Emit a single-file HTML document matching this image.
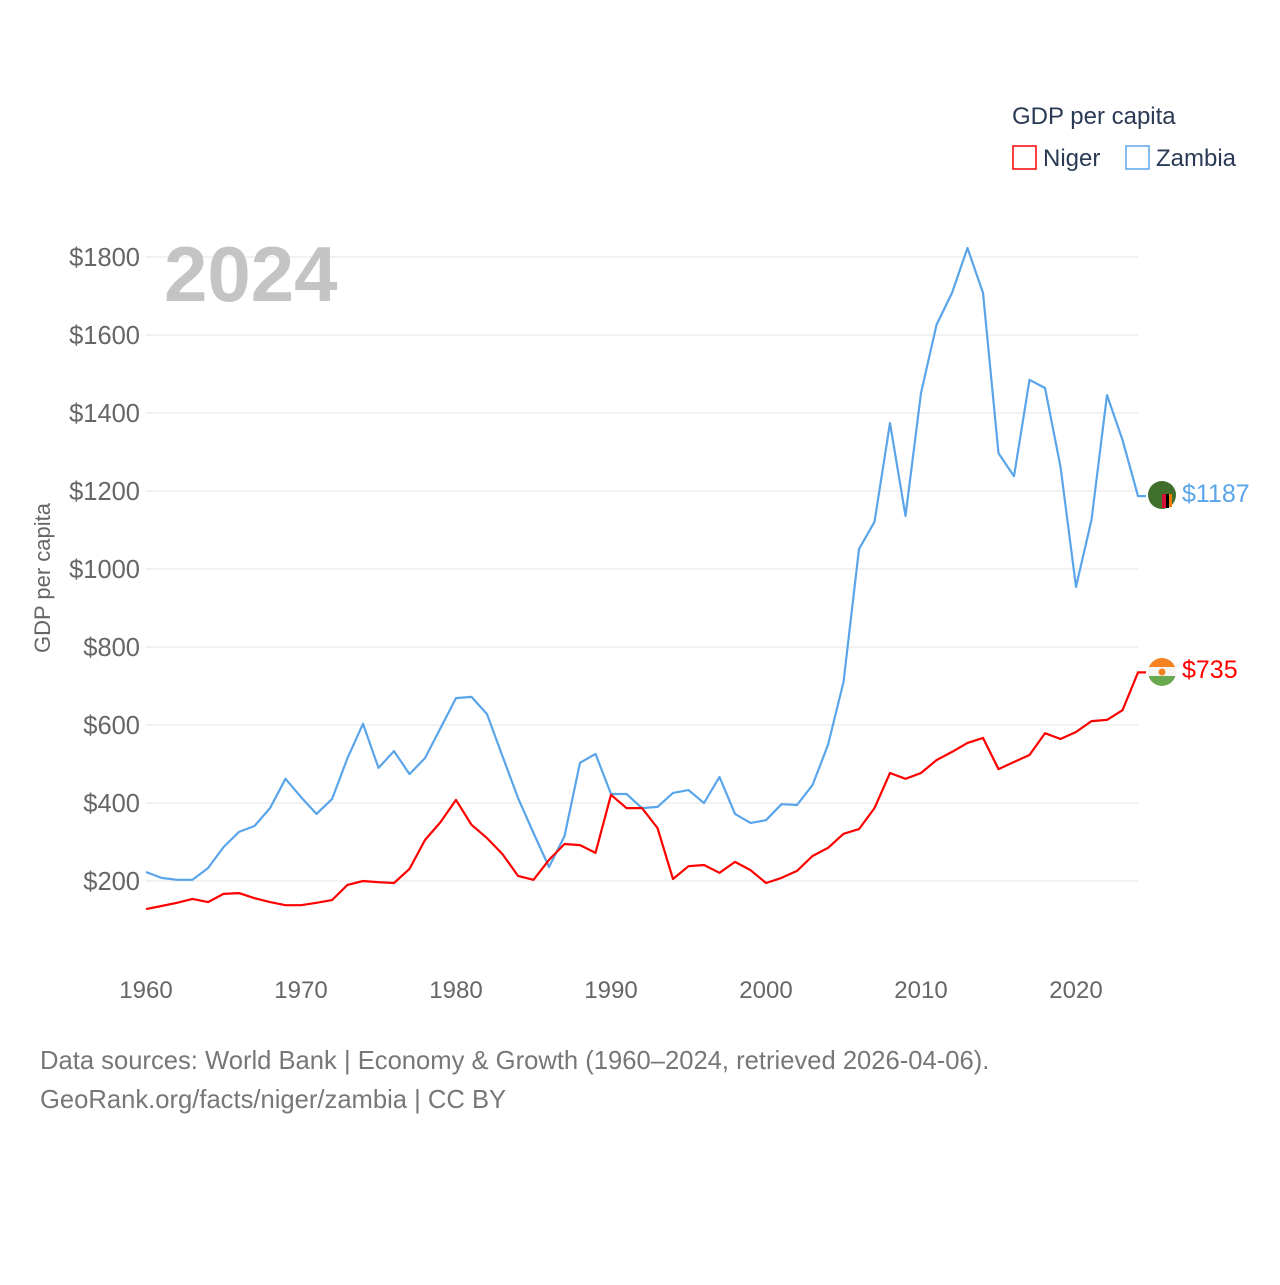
<!DOCTYPE html>
<html><head><meta charset="utf-8">
<style>
body{margin:0;background:#fff;font-family:"Liberation Sans",sans-serif;}
svg text{font-family:"Liberation Sans",sans-serif;}
</style></head>
<body>
<svg id="chart" width="1280" height="1280" viewBox="0 0 1280 1280" xmlns="http://www.w3.org/2000/svg">
<rect width="1280" height="1280" fill="#fff"/>
<g id="grid"></g>
<g id="yticks"></g>
<g id="xticks"></g>
<text x="164" y="301" font-size="78" font-weight="bold" fill="#c4c4c4">2024</text>
<text transform="translate(50,578) rotate(-90)" text-anchor="middle" font-size="22" fill="#666">GDP per capita</text>
<g id="series"></g>
<g>
<text x="1012" y="124" font-size="24" fill="#2a3a55">GDP per capita</text>
<rect x="1013" y="146" width="23" height="23" fill="none" stroke="#ff0000" stroke-width="1.5"/>
<text x="1043" y="166" font-size="24" fill="#2a3a55">Niger</text>
<rect x="1126" y="146" width="23" height="23" fill="none" stroke="#5aa5ea" stroke-width="1.5"/>
<text x="1156" y="166" font-size="24" fill="#2a3a55">Zambia</text>
</g>
<g>
<circle cx="1162" cy="495" r="14" fill="#3f6f2a"/>
<rect x="1162" y="494" width="4" height="14" fill="#d21034"/><rect x="1166" y="494" width="3" height="14" fill="#000"/><rect x="1169" y="494" width="3" height="13" fill="#ef7d00"/>
</g>
<g>
<clipPath id="nc"><circle cx="1162" cy="672" r="14"/></clipPath>
<g clip-path="url(#nc)"><rect x="1148" y="658" width="28" height="10" fill="#f58220"/><rect x="1148" y="667" width="28" height="10" fill="#f4f4f4"/><rect x="1148" y="676" width="28" height="10" fill="#6aa84f"/></g>
<circle cx="1162" cy="672" r="3.5" fill="#f58220"/>
</g>
<text x="1182" y="502" font-size="25" fill="#5aa5ea">$1187</text>
<text x="1182" y="678" font-size="25" fill="#ff0000">$735</text>
<text x="40" y="1069" font-size="25.6" fill="#777">Data sources: World Bank | Economy &amp; Growth (1960–2024, retrieved 2026-04-06).</text>
<text x="40" y="1108" font-size="25.6" fill="#777">GeoRank.org/facts/niger/zambia | CC BY</text>
</svg>
<script>
const years = [];
for (let y = 1960; y <= 2024; y++) years.push(y);
const zambia = [223,208,203,203,233,287,326,341,387,462,415,372,410,515,603,490,533,474,515,592,669,672,628,520,413,323,236,315,503,526,423,423,387,390,426,433,400,467,372,349,356,397,395,446,549,710,1051,1121,1374,1136,1451,1626,1708,1823,1708,1297,1238,1485,1464,1262,954,1126,1446,1331,1187];
const niger = [128,136,144,154,146,167,169,156,146,138,138,144,151,190,200,197,195,231,305,351,408,344,310,269,213,203,254,295,292,272,421,387,387,336,205,238,241,221,249,228,195,208,226,264,285,321,333,387,477,462,477,510,531,554,567,487,505,523,579,564,582,610,613,638,735];
const yTicks = [200,400,600,800,1000,1200,1400,1600,1800];
const xTicks = [1960,1970,1980,1990,2000,2010,2020];
const NS = "http://www.w3.org/2000/svg";
const xs = v => 146 + (v - 1960) * 15.5;
const ys = v => 881 - (v - 200) * 0.39;
function mk(tag, attrs, parent) {
  const e = document.createElementNS(NS, tag);
  for (const k in attrs) e.setAttribute(k, attrs[k]);
  document.getElementById(parent).appendChild(e);
  return e;
}
yTicks.forEach(v => {
  const l = mk("line", {x1:146, x2:1138, y1:ys(v), y2:ys(v), stroke:"#e6e6e6", "stroke-width":1}, "grid");
  
  
  const t = mk("text", {x:140, y:ys(v)+9, "text-anchor":"end", "font-size":25.5, fill:"#666"}, "yticks");
  t.textContent = "$" + v;
  
  
});
xTicks.forEach(v => {
  const t = mk("text", {x:xs(v), y:998, "text-anchor":"middle", "font-size":24, fill:"#666"}, "xticks");
  t.textContent = v;
  
  
});
function line(vals, color, name) {
  let d = vals.map((v, i) => (i ? "L" : "M") + xs(years[i]).toFixed(1) + "," + ys(v).toFixed(1)).join("");
  d += "L" + (xs(2024) + 8) + "," + ys(vals[vals.length - 1]).toFixed(1);
  const p = mk("path", {d, fill:"none", stroke:color, "stroke-width":2.2, "stroke-linejoin":"round"}, "series");
  
  
}
line(zambia, "#5aa5ea", "zambia-line");
line(niger, "#ff0000", "niger-line");
</script>
</body></html>
